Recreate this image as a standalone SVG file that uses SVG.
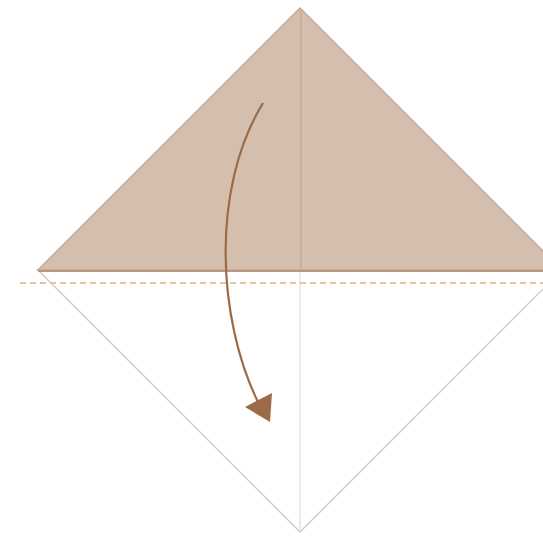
<svg xmlns="http://www.w3.org/2000/svg" width="543" height="536" viewBox="0 0 543 536">
  <style>
    .paper { fill: #ffffff; stroke: #d6ccc4; stroke-width: 1.5; }
    .flap { fill: #d4bfae; stroke: #c6a994; stroke-width: 1.5; }
    .crease { stroke: #e8e2dc; stroke-width: 1.5; fill: none; }
    .crease-dark { stroke: #c4ab97; stroke-width: 1.5; fill: none; }
    .fold-edge { stroke: #b8997f; stroke-width: 2; fill: none; }
    .valley { stroke: #e6c29e; stroke-width: 2; stroke-dasharray: 6 4; fill: none; }
    .arrow { stroke: #9b6b47; stroke-width: 2.2; fill: none; }
    .arrow-head { fill: #9b6b47; }
  </style>
  <rect width="543" height="536" fill="#ffffff"/>
  <g id="paper-lower">
    <polygon class="paper" points="38,270 562,270 300,532"/>
    <line class="crease" x1="300" y1="272" x2="300" y2="530"/>
  </g>
  <g id="flap-upper">
    <polygon class="flap" points="300,8 562,270 38,270"/>
    <line class="crease-dark" x1="301" y1="10" x2="301" y2="270"/>
    <line class="fold-edge" x1="38" y1="271" x2="543" y2="271"/>
  </g>
  <g id="connectors">
    <line class="valley" x1="20" y1="283" x2="543" y2="283"/>
    <path class="arrow" d="M263,103 C210,190 218,320 258,402"/>
    <polygon class="arrow-head" points="245,407 272,393 270,422"/>
  </g>
</svg>
